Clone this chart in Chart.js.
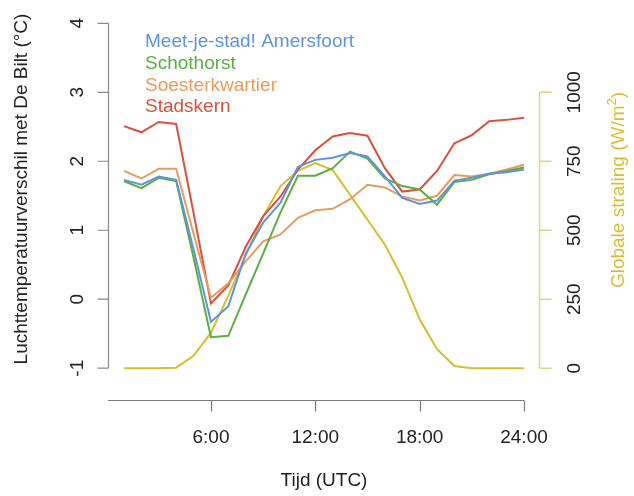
<!DOCTYPE html>
<html>
<head>
<meta charset="utf-8">
<script src="https://cdn.jsdelivr.net/npm/chart.js@4"></script>
<style>
html,body{margin:0;padding:0;background:#fff;}
#wrap{width:634px;height:496px;}
</style>
</head>
<body>
<div id="wrap"><canvas id="c" width="634" height="496"></canvas></div>
<script>
// ---- data ----
const hours = [1,2,3,4,5,6,7,8,9,10,11,12,13,14,15,16,17,18,19,20,21,22,23,24];
const seriesNames = ["Meet-je-stad! Amersfoort","Schothorst","Soesterkwartier","Stadskern"];
const meetJeStad = [1.73,1.66,1.78,1.73,0.72,-0.33,-0.10,0.66,1.11,1.40,1.92,2.02,2.05,2.12,2.07,1.78,1.47,1.38,1.43,1.72,1.76,1.82,1.84,1.88];
const schothorst = [1.71,1.61,1.76,1.71,0.60,-0.55,-0.53,0.07,0.66,1.26,1.79,1.79,1.90,2.14,2.04,1.75,1.64,1.59,1.37,1.70,1.73,1.81,1.86,1.91];
const soesterkwartier = [1.86,1.75,1.89,1.89,0.95,0.02,0.23,0.55,0.84,0.94,1.18,1.29,1.31,1.45,1.66,1.62,1.49,1.43,1.50,1.80,1.78,1.82,1.88,1.95];
const stadskern = [2.51,2.42,2.57,2.54,1.25,-0.06,0.20,0.76,1.20,1.49,1.88,2.16,2.36,2.41,2.37,1.90,1.56,1.59,1.86,2.26,2.38,2.58,2.60,2.63];
const globaleStraling = [0,0,0,2,45,129,263,408,550,660,715,743,718,628,538,448,328,177,69,8,0,0,0,0];
const xTicks = [6,12,18,24];
const xTickLabels = ["6:00","12:00","18:00","24:00"];
const leftTicks = [-1,0,1,2,3,4];
const rightTicks = [0,250,500,750,1000];
const leftTitle = "Luchttemperatuurverschil met De Bilt (°C)";
const rightTitle = "Globale straling (W/m²)";
const xTitle = "Tijd (UTC)";

const colors = ["#5f93dc","#5cae40","#e89c5c","#d9503f"];
const gold = "#d8bd2e";
const goldPale = "#e4d384";
const FONT = '"Liberation Sans", Arial, Helvetica, sans-serif';

function pts(arr){ return hours.map((h,i)=>({x:h,y:arr[i]})); }

const tempSeries = [meetJeStad, schothorst, soesterkwartier, stadskern];
const datasets = tempSeries.map((arr,i)=>({
  label: seriesNames[i], data: pts(arr), borderColor: colors[i], borderWidth: 2,
  pointRadius: 0, tension: 0, fill: false, yAxisID: 'y'
}));
datasets.push({label:"Globale straling", data: pts(globaleStraling), borderColor: gold, borderWidth: 2,
  pointRadius: 0, tension: 0, fill: false, yAxisID: 'y1'});

const axesPlugin = {
  id: 'rAxes',
  afterDraw(chart){
    const ctx = chart.ctx;
    const xs = chart.scales.x, ys = chart.scales.y, y1 = chart.scales.y1;
    const ca = chart.chartArea;
    ctx.save();
    ctx.lineCap = 'butt';
    // left axis
    const lx = Math.round(ca.left) + 0.5;
    ctx.strokeStyle = '#8a8a8a'; ctx.lineWidth = 1.2;
    ctx.beginPath();
    ctx.moveTo(lx, ys.getPixelForValue(-1)); ctx.lineTo(lx, ys.getPixelForValue(4));
    leftTicks.forEach(v=>{ const p = ys.getPixelForValue(v); ctx.moveTo(lx,p); ctx.lineTo(lx-11,p); });
    ctx.stroke();
    ctx.fillStyle = '#222'; ctx.font = '19px ' + FONT; ctx.textAlign='center'; ctx.textBaseline='middle';
    leftTicks.forEach(v=>{ const p = ys.getPixelForValue(v); ctx.save(); ctx.translate(78,p); ctx.rotate(-Math.PI/2); ctx.fillText(String(v),0,0); ctx.restore(); });
    ctx.save(); ctx.translate(22,189); ctx.rotate(-Math.PI/2); ctx.fillText(leftTitle,0,0); ctx.restore();
    // right axis
    const rx = Math.round(ca.right) - 0.5;
    ctx.strokeStyle = goldPale; ctx.lineWidth = 1.5;
    ctx.beginPath();
    ctx.moveTo(rx, y1.getPixelForValue(0)); ctx.lineTo(rx, y1.getPixelForValue(1000));
    rightTicks.forEach(v=>{ const p = y1.getPixelForValue(v); ctx.moveTo(rx,p); ctx.lineTo(rx+12,p); });
    ctx.stroke();
    ctx.fillStyle = '#222';
    rightTicks.forEach(v=>{ const p = y1.getPixelForValue(v); ctx.save(); ctx.translate(575,p); ctx.rotate(-Math.PI/2); ctx.fillText(String(v),0,0); ctx.restore(); });
    ctx.fillStyle = gold;
    ctx.save(); ctx.translate(619,190); ctx.rotate(-Math.PI/2);
    // title with superscript 2
    const base = "Globale straling (W/m", tail = ")";
    ctx.font = '19px ' + FONT;
    const wb = ctx.measureText(base).width, wt = ctx.measureText(tail).width;
    ctx.font = '13px ' + FONT; const ws = ctx.measureText("2").width;
    const total = wb + ws + wt; let sx = -total/2;
    ctx.textAlign = 'left';
    ctx.font = '19px ' + FONT; ctx.fillText(base, sx, 0); sx += wb;
    ctx.font = '13px ' + FONT; ctx.fillText("2", sx, -7); sx += ws;
    ctx.font = '19px ' + FONT; ctx.fillText(tail, sx, 0);
    ctx.restore();
    // x axis
    const by = 400.5;
    ctx.strokeStyle = '#7a7a7a'; ctx.lineWidth = 1.2;
    ctx.beginPath();
    ctx.moveTo(ca.left, by); ctx.lineTo(xs.getPixelForValue(24), by);
    xTicks.forEach(v=>{ const p = Math.round(xs.getPixelForValue(v))+0.5; ctx.moveTo(p,by); ctx.lineTo(p,by+11); });
    ctx.stroke();
    ctx.fillStyle = '#222'; ctx.textAlign='center'; ctx.textBaseline='middle'; ctx.font = '19px ' + FONT;
    xTicks.forEach((v,i)=>{ ctx.fillText(xTickLabels[i], xs.getPixelForValue(v), 438); });
    ctx.fillText(xTitle, (ca.left+ca.right)/2, 481);
    // legend
    ctx.textAlign='left';
    seriesNames.forEach((n,i)=>{ ctx.fillStyle = colors[i]; ctx.fillText(n, 145, 42 + i*21.7); });
    ctx.restore();
  }
};

new Chart(document.getElementById('c'), {
  type: 'line',
  data: { datasets },
  options: {
    responsive: false, animation: false, devicePixelRatio: 1,
    layout: { padding: { left: 108, right: 94, top: 9.5, bottom: 114 } },
    plugins: { legend: { display: false }, tooltip: { enabled: false } },
    scales: {
      x: { type: 'linear', min: 0.08, max: 24.92, display: false },
      y: { type: 'linear', min: -1.2, max: 4.2, display: false },
      y1: { type: 'linear', min: -50, max: 1300, display: false }
    }
  },
  plugins: [axesPlugin]
});
</script>
</body>
</html>
